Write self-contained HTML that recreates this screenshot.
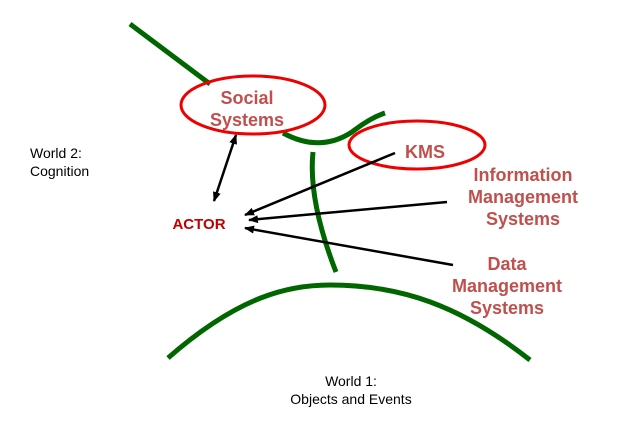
<!DOCTYPE html>
<html><head><style>
body{margin:0;background:#fff;}
svg text{font-family:"Liberation Sans",Arial,sans-serif;}
</style></head><body>
<svg width="620" height="420" viewBox="0 0 620 420" xmlns="http://www.w3.org/2000/svg">
<defs><marker id="a" markerWidth="10" markerHeight="8" refX="9" refY="4" orient="auto" markerUnits="userSpaceOnUse"><path d="M0,0 L10,4 L0,8 Z" fill="#000"/></marker>
<marker id="b" markerWidth="10" markerHeight="8" refX="1" refY="4" orient="auto" markerUnits="userSpaceOnUse"><path d="M10,0 L0,4 L10,8 Z" fill="#000"/></marker></defs>
<g fill="none" stroke="#006600" stroke-width="5">
<path d="M130,24 L210,84"/>
<path d="M283,133 Q320,153 352,132 Q370,118 385,113"/>
<path d="M313,152 Q308,200 336,272"/>
<path d="M168,358 C240,295 290,285 330,285 C400,285 460,305 530,360"/>
</g>
<ellipse cx="253" cy="105" rx="72" ry="29" fill="none" stroke="#ee0000" stroke-width="3"/>
<ellipse cx="417" cy="145" rx="68" ry="24" fill="none" stroke="#ee0000" stroke-width="3"/>
<g stroke="#000" stroke-width="2.5">
<line x1="236" y1="135" x2="214" y2="201" marker-start="url(#b)" marker-end="url(#a)"/>
<line x1="395" y1="153" x2="245" y2="215" marker-end="url(#a)"/>
<line x1="447" y1="202" x2="249" y2="220" marker-end="url(#a)"/>
<line x1="453" y1="265" x2="245" y2="228" marker-end="url(#a)"/>
</g>
<g fill="#c0504d" font-weight="bold" font-size="18" text-anchor="middle">
<text x="247" y="104">Social</text>
<text x="247" y="126">Systems</text>
<text x="425" y="158">KMS</text>
<text x="523" y="181">Information</text>
<text x="523" y="203">Management</text>
<text x="523" y="225">Systems</text>
<text x="507" y="270">Data</text>
<text x="507" y="292">Management</text>
<text x="507" y="314">Systems</text>
</g>
<text x="199" y="229" fill="#c00000" font-weight="bold" font-size="15" text-anchor="middle">ACTOR</text>
<g font-size="14" fill="#000">
<text x="30" y="158">World 2:</text>
<text x="30" y="176">Cognition</text>
<text x="351" y="386" text-anchor="middle">World 1:</text>
<text x="351" y="404" text-anchor="middle">Objects and Events</text>
</g>
</svg>
</body></html>
